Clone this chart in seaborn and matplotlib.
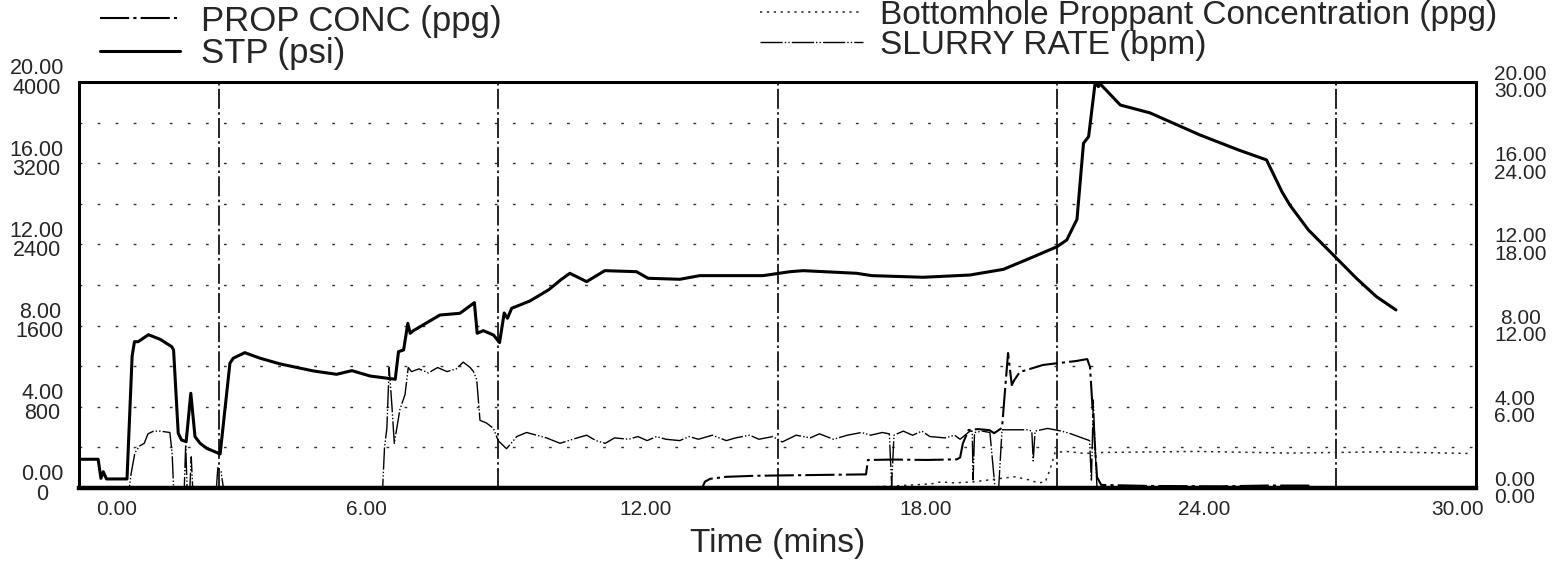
import numpy as np
import pandas as pd
import matplotlib
matplotlib.use("Agg")
import matplotlib.pyplot as plt
import matplotlib.transforms as mtransforms
from matplotlib.ticker import FixedLocator, MultipleLocator
import seaborn as sns

# ---- data (time in minutes) ----
time_stp = [0.0, 0.41, 0.47, 0.52, 0.59, 1.03, 1.14, 1.19, 1.27, 1.49, 1.74, 1.99, 2.03, 2.13,
            2.2, 2.3, 2.4, 2.49, 2.6, 2.74, 3.03, 3.24, 3.31, 3.56, 3.89, 4.32, 5.03, 5.53,
            5.86, 6.25, 6.79, 6.86, 6.97, 7.06, 7.11, 7.18, 7.75, 8.18, 8.49, 8.55, 8.68,
            8.9, 9.03, 9.13, 9.2, 9.29, 9.68, 10.08, 10.36, 10.54, 10.9, 11.29, 11.97, 12.22,
            12.9, 13.33, 14.69, 15.27, 15.55, 16.7, 17.02, 18.13, 19.13, 19.85, 20.42, 21.0,
            21.21, 21.43, 21.57, 21.68, 21.82, 21.89, 21.93, 22.36, 23.0, 24.07, 24.9, 25.5,
            25.83, 26.0, 26.4, 26.97, 27.43, 27.86, 28.28]
stp_psi = [283, 283, 95, 160, 89, 89, 1300, 1441, 1441, 1510, 1465, 1392, 1360, 539,
           473, 456, 933, 506, 440, 391, 335, 1229, 1278, 1333, 1278, 1222, 1153, 1120,
           1156, 1103, 1071, 1343, 1360, 1622, 1524, 1550, 1704, 1721, 1826, 1524, 1550,
           1507, 1432, 1724, 1672, 1770, 1842, 1951, 2056, 2115, 2033, 2141, 2131, 2066,
           2056, 2092, 2092, 2131, 2141, 2115, 2092, 2076, 2098, 2154, 2263, 2377,
           2443, 2647, 3396, 3461, 3993, 3954, 3980, 3773, 3695, 3478, 3330, 3232,
           2920, 2788, 2542, 2279, 2066, 1885, 1754]

time_prop = [0.0, 13.38, 13.44, 13.55, 13.9, 14.5, 15.5, 16.9, 16.94, 17.5, 18.2, 18.85,
             18.92, 18.98, 19.1, 19.3, 19.55, 19.65, 19.82, 19.95, 20.03, 20.08, 20.2, 20.4,
             20.7, 21.06, 21.4, 21.65, 21.71, 21.78, 21.86, 21.95, 23.0, 24.5, 25.5, 26.4,
             26.5, 29.0]
prop_conc = [0.0, 0.0, 0.31, 0.45, 0.55, 0.6, 0.63, 0.67, 1.38, 1.4, 1.38, 1.41,
             1.5, 2.2, 2.85, 2.9, 2.85, 2.7, 2.96, 6.65, 5.07, 5.3, 5.71, 5.85,
             6.06, 6.16, 6.25, 6.35, 5.96, 3.35, 0.54, 0.15, 0.1, 0.08, 0.12, 0.12,
             0.0, 0.0]

time_rate = [0.0, 1.08, 1.12, 1.2, 1.3, 1.4, 1.48, 1.6, 1.74, 1.95, 2.0, 2.03, 2.26, 2.29,
             2.32, 2.38, 2.41, 2.44, 2.95, 2.98, 3.05, 3.1, 6.52, 6.56, 6.61, 6.66, 6.72,
             6.77, 6.89, 7.0, 7.07, 7.14, 7.3, 7.5, 7.7, 7.9, 8.1, 8.25, 8.4, 8.47, 8.54,
             8.61, 8.75, 8.9, 9.0, 9.18, 9.4, 9.61, 10.04, 10.33, 10.6, 10.9, 11.1, 11.3,
             11.5, 11.8, 12.0, 12.2, 12.4, 12.6, 12.9, 13.1, 13.3, 13.6, 13.9, 14.1, 14.4,
             14.6, 14.9, 15.1, 15.4, 15.7, 15.9, 16.2, 16.5, 16.8, 17.0, 17.25, 17.4, 17.45,
             17.5, 17.7, 17.9, 18.1, 18.27, 18.6, 18.8, 18.92, 19.13, 19.18, 19.2, 19.23,
             19.4, 19.56, 19.67, 19.75, 19.82, 20.38, 20.46, 20.49, 20.53, 20.8, 21.1,
             21.3, 21.54, 21.7, 21.74, 21.78, 21.82, 21.86, 27.5]
slurry_rate = [0.0, 0.0, 1.1, 2.6, 3.1, 3.3, 4.0, 4.2, 4.2, 4.1, 2.5, 0.0, 0.0, 3.2,
               0.0, 0.0, 2.3, 0.0, 0.0, 1.5, 1.2, 0.0, 0.0, 3.0, 4.4, 8.9, 6.0,
               3.3, 5.8, 6.9, 8.9, 8.6, 8.8, 8.5, 8.9, 8.6, 8.8, 9.3, 8.9, 8.6, 8.0,
               5.0, 4.8, 4.4, 3.5, 2.9, 3.8, 4.1, 3.7, 3.3, 3.6, 3.9, 3.5, 3.3,
               3.7, 3.6, 3.8, 3.5, 3.8, 3.6, 3.5, 3.8, 3.6, 3.9, 3.5, 3.7, 3.9,
               3.6, 3.8, 3.4, 3.9, 3.7, 4.0, 3.6, 3.9, 4.1, 3.9, 4.1, 4.0, 0.2,
               3.9, 4.2, 3.9, 4.2, 3.8, 3.7, 3.9, 3.6, 4.2, 4.2, 0.6, 4.1,
               4.2, 4.1, 0.0, 0.1, 4.3, 4.3, 4.2, 2.0, 4.2, 4.4, 4.2,
               4.0, 3.7, 3.5, 0.5, 6.5, 3.0, 0.0, 0.0]

time_bh = [0.0, 14.8, 15.0, 17.0, 17.5, 18.3, 18.5, 18.8, 19.2, 19.9, 20.1, 20.4, 20.6,
           20.75, 20.85, 20.96, 21.2, 21.6, 22.0, 24.0, 26.0, 28.0, 29.87]
bh_conc = [0.0, 0.0, 0.05, 0.05, 0.1, 0.2, 0.3, 0.25, 0.3, 0.5, 0.55, 0.4, 0.25,
           0.3, 0.9, 1.75, 1.8, 1.7, 1.75, 1.8, 1.72, 1.78, 1.7]

x_ticks = [0, 6, 12, 18, 24, 30]
x_tick_labels = ["0.00", "6.00", "12.00", "18.00", "24.00", "30.00"]
x_grid = [3, 9, 15, 21, 27]
left_ticks = [0, 800, 1600, 2400, 3200, 4000]
left_tick_labels = ["0.00\n0", "4.00\n800", "8.00\n1600", "12.00\n2400", "16.00\n3200", "20.00\n4000"]
right_ticks = [0, 6, 12, 18, 24, 30]
right_tick_labels = ["0.00\n0.00", "4.00\n6.00", "8.00\n12.00", "12.00\n18.00", "16.00\n24.00", "20.00\n30.00"]

stp = pd.DataFrame({"t": time_stp, "psi": stp_psi})
prop = pd.DataFrame({"t": time_prop, "ppg": prop_conc})
rate = pd.DataFrame({"t": time_rate, "bpm": slurry_rate})
bh = pd.DataFrame({"t": time_bh, "ppg": bh_conc})

sns.set_style("white")
plt.rcParams["font.family"] = ["Liberation Sans", "DejaVu Sans"]

fig = plt.figure(figsize=(15.59, 5.70), dpi=100)
ax = fig.add_axes([0.0507, 0.1439, 0.8961, 0.7123])
ax_pc = ax.twinx()
ax_rate = ax.twinx()

# STP on the main (left) axis
sns.lineplot(data=stp, x="t", y="psi", ax=ax, color="black", lw=2.2,
             estimator=None, sort=False, label="STP (psi)")

# both proppant concentrations share a hidden 0-20 ppg axis
sns.lineplot(data=prop, x="t", y="ppg", ax=ax_pc, color="black", lw=1.5,
             linestyle=(0, (14, 2, 1.5, 2)), estimator=None, sort=False,
             label="PROP CONC (ppg)")
sns.lineplot(data=bh, x="t", y="ppg", ax=ax_pc, color="0.15", lw=1.1,
             linestyle=(0, (1.5, 3)), estimator=None, sort=False,
             label="Bottomhole Proppant Concentration (ppg)")

# slurry rate on the right 0-30 bpm axis
sns.lineplot(data=rate, x="t", y="bpm", ax=ax_rate, color="black", lw=1.0,
             linestyle=(0, (16, 1.5, 1, 1.5, 1, 1.5)), estimator=None, sort=False,
             label="SLURRY RATE (bpm)")

h_stp, l_stp = ax.get_legend_handles_labels()
h_pc, l_pc = ax_pc.get_legend_handles_labels()
h_rt, l_rt = ax_rate.get_legend_handles_labels()

ax.set_xlim(0, 30)
ax.set_ylim(0, 4000)
ax.set_xticks(x_ticks)
ax.set_xticklabels(x_tick_labels, fontsize=15)
ax.xaxis.set_minor_locator(FixedLocator(x_grid))
ax.set_yticks(left_ticks)
ax.set_yticklabels(left_tick_labels, fontsize=15.5, linespacing=0.9, multialignment="center")
ax.yaxis.set_minor_locator(MultipleLocator(400))
ax.grid(axis="y", which="both", color="0.2", lw=1.0, linestyle=(0, (2, 11)))
ax.grid(axis="x", which="major", visible=False)
ax.grid(axis="x", which="minor", color="black", lw=1.2, linestyle=(0, (12, 2, 1.5, 2)))
ax.tick_params(which="both", length=0)
ax.tick_params(axis="y", pad=11)
ax.tick_params(axis="x", pad=9)

ax_pc.set_ylim(0, 20)
ax_pc.set_yticks([])

ax_rate.set_ylim(0, 30)
ax_rate.set_yticks(right_ticks)
ax_rate.set_yticklabels(right_tick_labels, fontsize=15, linespacing=0.9, multialignment="center")
ax_rate.tick_params(length=0, pad=13)

for a in (ax, ax_pc, ax_rate):
    a.set_xlim(0, 30)
    a.set_xlabel("")
    a.set_ylabel("")
    for side in ("top", "left", "right"):
        a.spines[side].set_linewidth(2)
        a.spines[side].set_color("black")
    a.spines["bottom"].set_linewidth(3)
    a.spines["bottom"].set_color("black")
    if a.get_legend() is not None:
        a.get_legend().remove()
ax.set_xlabel("Time (mins)", fontsize=24, labelpad=6)

# nudge tick labels like the original print
shifts = [38, 8, 8, 8, 8, -18]
for lab, dx in zip(ax.get_xticklabels(), shifts):
    lab.set_transform(lab.get_transform() + mtransforms.ScaledTranslation(dx / 100, 0, fig.dpi_scale_trans))
for lab in ax.get_yticklabels():
    lab.set_transform(lab.get_transform() + mtransforms.ScaledTranslation(0, 5 / 100, fig.dpi_scale_trans))

# legends
fig.legend([h_pc[0], h_stp[0]], [l_pc[0], l_stp[0]], loc="upper left",
           bbox_to_anchor=(100 / 1559, 0.992), frameon=False, fontsize=25,
           handlelength=2.3, handletextpad=0.6, labelspacing=-0.02,
           borderpad=0.0, borderaxespad=0.0)
fig.legend([h_pc[1], h_rt[0]], [l_pc[1], l_rt[0]], loc="upper left",
           bbox_to_anchor=(760 / 1559, 1.0), frameon=False, fontsize=24,
           handlelength=3.1, handletextpad=0.5, labelspacing=-0.03,
           borderpad=0.0, borderaxespad=0.0)

fig.savefig("out.png", dpi=100)
